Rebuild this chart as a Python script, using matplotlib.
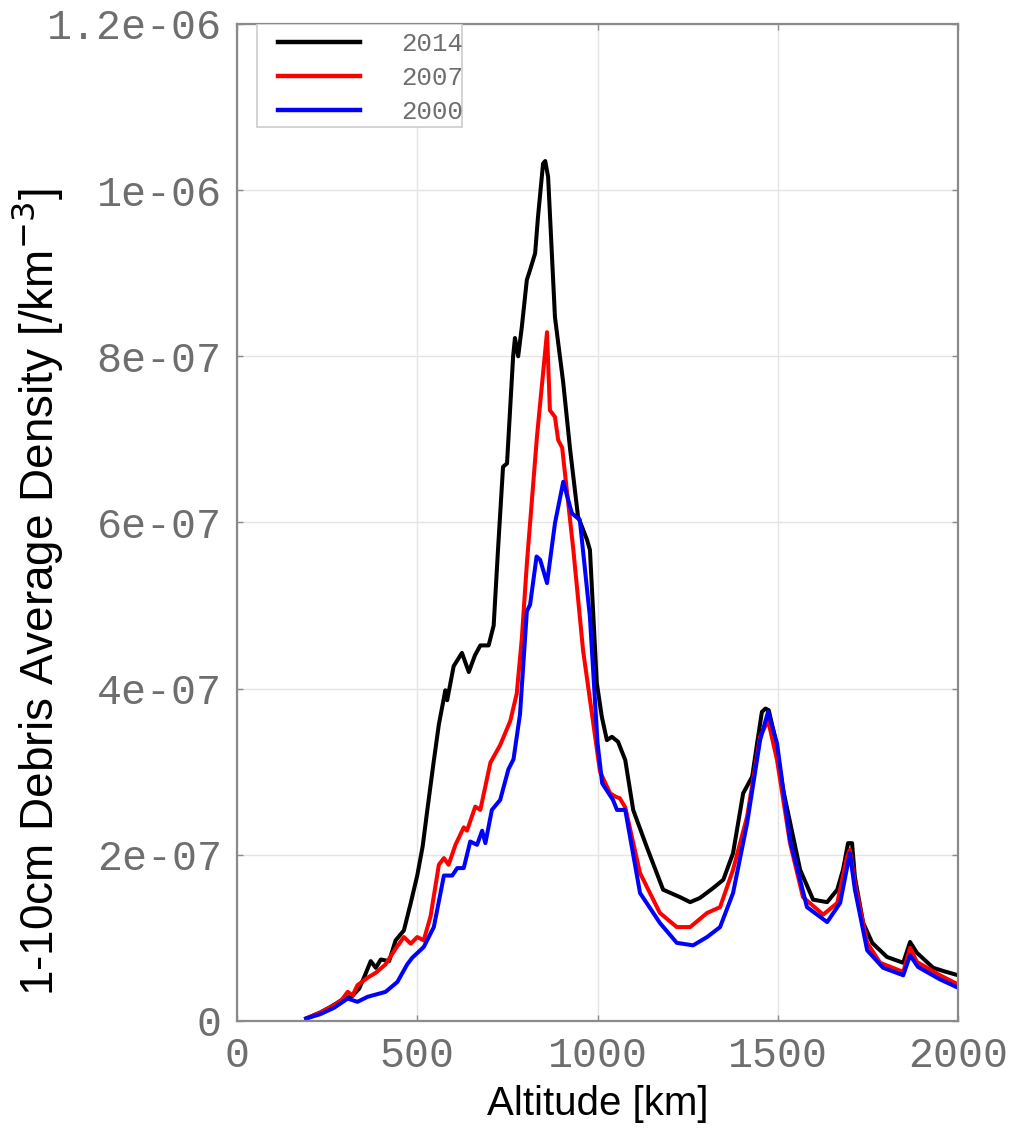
import matplotlib
matplotlib.use('Agg')
import matplotlib.pyplot as plt
from matplotlib.patches import Rectangle
import numpy as np

alt_2014 = [192, 230, 260, 297, 320, 339, 355, 371, 385, 399, 422, 440, 463, 482, 500, 515, 528, 545,
            560, 578, 583, 601, 624, 643, 660, 675, 698, 712, 724, 738, 749, 766, 771, 780, 790, 804,
            813, 827, 835, 849, 855, 863, 882, 905, 924, 946, 971, 979, 998, 1012, 1026, 1040, 1057,
            1077, 1099, 1137, 1182, 1229, 1257, 1284, 1321, 1349, 1376, 1404, 1429, 1443, 1456, 1466,
            1475, 1492, 1515, 1543, 1562, 1598, 1637, 1665, 1681, 1695, 1706, 1714, 1737, 1762, 1803,
            1848, 1867, 1886, 1931, 1960, 2000]
dens_2014 = [0.03, 0.1, 0.17, 0.27, 0.3, 0.39, 0.55, 0.72, 0.64, 0.74, 0.72, 0.97, 1.09, 1.42, 1.75,
             2.1, 2.54, 3.1, 3.57, 3.98, 3.86, 4.27, 4.43, 4.2, 4.4, 4.52, 4.52, 4.76, 5.67, 6.67, 6.71,
             8.0, 8.22, 8.0, 8.35, 8.92, 9.04, 9.24, 9.68, 10.32, 10.35, 10.16, 8.47, 7.68, 6.88, 6.07,
             5.79, 5.67, 4.07, 3.66, 3.38, 3.42, 3.36, 3.14, 2.54, 2.09, 1.58, 1.49, 1.43, 1.48, 1.6,
             1.7, 2.02, 2.74, 2.94, 3.35, 3.72, 3.76, 3.74, 3.42, 2.78, 2.21, 1.82, 1.46, 1.43, 1.58,
             1.82, 2.14, 2.14, 1.73, 1.18, 0.94, 0.77, 0.7, 0.95, 0.82, 0.64, 0.6, 0.55]

alt_2007 = [192, 230, 270, 290, 307, 321, 334, 362, 385, 412, 440, 463, 482, 500, 518, 537, 560, 574,
            587, 606, 629, 638, 661, 675, 703, 730, 758, 776, 790, 804, 832, 860, 868, 882, 891, 902,
            933, 960, 1007, 1035, 1050, 1062, 1077, 1118, 1173, 1220, 1257, 1304, 1340, 1376, 1415,
            1451, 1473, 1498, 1534, 1570, 1626, 1665, 1692, 1700, 1714, 1748, 1784, 1848, 1867, 1886,
            1950, 2000]
dens_2007 = [0.03, 0.1, 0.19, 0.25, 0.35, 0.31, 0.43, 0.52, 0.58, 0.68, 0.87, 1.01, 0.93, 1.01, 0.97,
             1.26, 1.88, 1.96, 1.88, 2.12, 2.33, 2.29, 2.58, 2.54, 3.11, 3.32, 3.61, 3.94, 4.6, 5.5,
             7.03, 8.29, 7.35, 7.27, 6.99, 6.9, 5.67, 4.46, 3.0, 2.74, 2.7, 2.68, 2.57, 1.78, 1.3,
             1.13, 1.13, 1.3, 1.37, 1.82, 2.46, 3.42, 3.62, 3.14, 2.14, 1.49, 1.28, 1.42, 1.97, 2.06,
             1.66, 0.94, 0.7, 0.59, 0.88, 0.71, 0.55, 0.44]

alt_2000 = [192, 230, 270, 307, 334, 362, 412, 445, 472, 486, 518, 546, 574, 597, 611, 629, 647, 666,
            680, 689, 707, 730, 753, 767, 785, 804, 813, 831, 841, 860, 882, 905, 929, 951, 979, 1000,
            1013, 1043, 1054, 1077, 1118, 1173, 1220, 1265, 1304, 1340, 1376, 1415, 1451, 1473, 1498,
            1534, 1581, 1637, 1673, 1700, 1714, 1748, 1792, 1848, 1867, 1889, 1950, 2000]
dens_2000 = [0.03, 0.08, 0.16, 0.27, 0.23, 0.29, 0.35, 0.47, 0.68, 0.76, 0.89, 1.13, 1.75, 1.75, 1.84,
             1.84, 2.16, 2.12, 2.29, 2.14, 2.54, 2.66, 3.03, 3.15, 3.69, 4.93, 5.01, 5.59, 5.55, 5.27,
             5.99, 6.49, 6.11, 6.03, 4.86, 3.35, 2.86, 2.66, 2.54, 2.54, 1.54, 1.18, 0.94, 0.91, 1.01,
             1.13, 1.54, 2.38, 3.38, 3.72, 3.34, 2.18, 1.37, 1.19, 1.42, 2.02, 1.58, 0.85, 0.64, 0.55,
             0.79, 0.65, 0.5, 0.4]

years = ['2014', '2007', '2000']
colors = ['black', 'red', 'blue']
x_ticks = [0, 500, 1000, 1500, 2000]
y_ticks = [0, 2e-7, 4e-7, 6e-7, 8e-7, 1e-6, 1.2e-6]
y_tick_labels = ['0', '2e-07', '4e-07', '6e-07', '8e-07', '1e-06', '1.2e-06']

mono = ['Liberation Mono', 'DejaVu Sans Mono']
sans = ['Liberation Sans', 'DejaVu Sans']
frame_col = '#8a8a8a'
txt_col = '#6e6e6e'

fig = plt.figure(figsize=(10.11, 11.30), dpi=100)
ax = fig.add_axes([0.2344, 0.0965, 0.7132, 0.8823])

series = [(alt_2014, dens_2014), (alt_2007, dens_2007), (alt_2000, dens_2000)]
for (a, d), yr, c in zip(series, years, colors):
    ax.plot(a, np.array(d) * 1e-7, color=c, lw=2.9, label=yr, solid_joinstyle='round')

ax.set_xlim(0, 2000)
ax.set_ylim(0, 1.2e-6)
ax.set_xticks(x_ticks)
ax.set_xticklabels([str(t) for t in x_ticks])
ax.set_yticks(y_ticks)
ax.set_yticklabels(y_tick_labels)
for lab in ax.get_xticklabels() + ax.get_yticklabels():
    lab.set_family(mono)
    lab.set_fontsize(30)
    lab.set_color(txt_col)
ax.tick_params(direction='in', length=4, width=1, color=frame_col, top=True, right=True, pad=11)
ax.grid(True, color='#e4e4e4', lw=1)
ax.set_axisbelow(True)
for s in ax.spines.values():
    s.set_color(frame_col)
    s.set_linewidth(1.6)

ax.set_xlabel('Altitude [km]', family=sans, fontsize=29, labelpad=6)
ax.set_ylabel('1-10cm Debris Average Density [/km$^{-3}$]', family=sans, fontsize=33)
ax.yaxis.set_label_coords(-0.238, 0.43)

# legend box drawn separately so the handles can sit further in
ax.add_patch(Rectangle((0.0277, 0.897), 0.284, 0.103, transform=ax.transAxes, fill=True,
                       facecolor='white', edgecolor='#cccccc', lw=1.2, zorder=4))
leg = ax.legend(loc='upper left', bbox_to_anchor=(0.05, 0.997), prop={'family': mono, 'size': 18.5},
                handlelength=3.2, handletextpad=1.6, labelspacing=0.38, borderpad=0.2,
                frameon=False, borderaxespad=0)
leg.set_zorder(5)
for t in leg.get_texts():
    t.set_color(txt_col)
for l in leg.get_lines():
    l.set_linewidth(3.2)

fig.savefig('out.png', dpi=100)
